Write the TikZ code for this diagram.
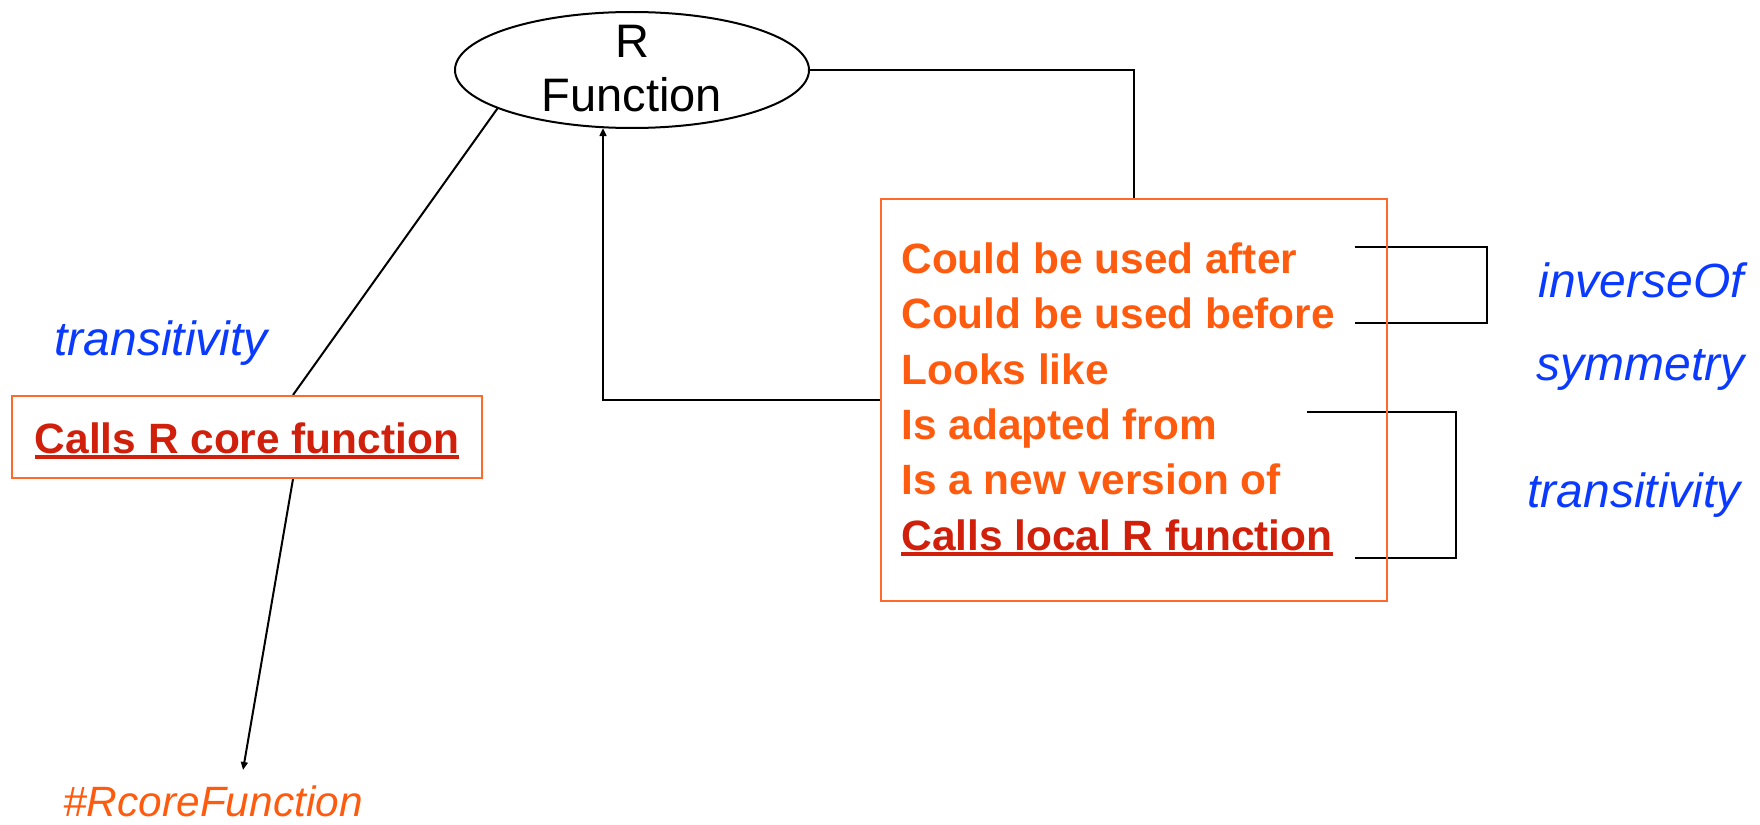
\documentclass[tikz,border=0pt]{standalone}
\usepackage{fontspec}
\setmainfont{Liberation Sans}
\usetikzlibrary{shapes.geometric,arrows.meta,calc}
\definecolor{relorange}{HTML}{FF5B0F}
\definecolor{coredred}{HTML}{D01F0A}
\definecolor{boxorange}{HTML}{FF6A2C}
\definecolor{propblue}{HTML}{0A3AFF}
% underline drawn as a rule just below the baseline
\newcommand\ulined[1]{\setbox0\hbox{#1}\rlap{\rule[-3.2pt]{\wd0}{2.2pt}}\box0}
\pgfdeclarelayer{bg}
\pgfsetlayers{bg,main}
\begin{document}
\begin{tikzpicture}[x=0.5pt,y=-0.5pt,
  conn/.style={line width=1pt,black},
  arr/.style={conn,-{Triangle[length=4pt,width=3.4pt]}},
  bracket/.style={line width=1pt,black},
  funcnode/.style={ellipse,draw,line width=1pt,minimum width=177pt,minimum height=58pt,inner sep=0pt},
  functext/.style={align=center,inner sep=0pt,font=\fontsize{23.5pt}{27pt}\selectfont},
  relbox/.style={draw=boxorange,line width=1pt,rectangle,inner sep=0pt},
  reltext/.style={anchor=base west,inner sep=0pt,text=relorange,font=\fontsize{21.2pt}{25pt}\selectfont\bfseries},
  calltext/.style={reltext,text=coredred},
  proplabel/.style={anchor=base west,inner sep=0pt,text=propblue,font=\fontsize{24pt}{28pt}\selectfont\itshape},
  tagtext/.style={anchor=base west,inner sep=0pt,text=relorange,font=\fontsize{21.2pt}{25pt}\selectfont\itshape}]
\useasboundingbox (0,0) rectangle (1760,824);

% the R function ellipse
\node[funcnode] (fn) at (632,70) {};
\node[functext] (fnlabel) at (632,69) {R\\Function};

% relation box on the left
\node[relbox,minimum width=235pt,minimum height=41pt] (core) at (247,437) {};
\node[calltext,anchor=base] (coretext) at (247,453) {\ulined{Calls R core function}};

% relation box on the right
\node[relbox,minimum width=253pt,minimum height=201pt] (rel) at (1134,400) {};
\node[reltext] (l1) at (901,273) {Could be used after};
\node[reltext] (l2) at (901,328) {Could be used before};
\node[reltext] (l3) at (901,384) {Looks like};
\node[reltext] (l4) at (901,439) {Is adapted from};
\node[reltext] (l5) at (901,494) {Is a new version of};
\node[calltext] (l6) at (901,550) {\ulined{Calls local R function}};

% property labels
\node[proplabel] (ptrans) at (54,355) {transitivity};
\node[proplabel] (pinv) at (1538,297) {inverseOf};
\node[proplabel] (psym) at (1536,380) {symmetry};
\node[proplabel] (ptrans2) at (1527,507) {transitivity};
\node[tagtext] (tag) at (63,816) {\#RcoreFunction};

% connector end points
\coordinate (fnin) at (603,128);
\coordinate (tagtip) at (243,770);

\begin{pgfonlayer}{bg}
  \draw[conn] (fn.196) -- ($(core.north)+(46,0)$);
  \draw[arr] ($(core.south)+(46,0)$) -- (tagtip);
  \draw[conn] (fn.east) -| (rel.north);
  \draw[arr] (rel.west) -| (fnin);
  % brackets grouping the relations
  \draw[bracket] (1355,247) -- (1487,247) -- (1487,323) -- (1355,323);
  \draw[bracket] (1307,412) -- (1456,412) -- (1456,558) -- (1355,558);
\end{pgfonlayer}
\end{tikzpicture}
\end{document}
